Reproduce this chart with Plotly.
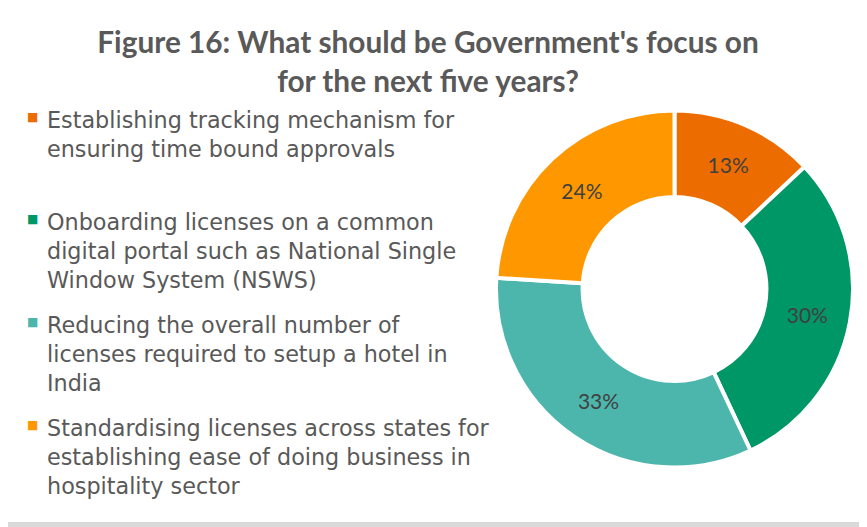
import plotly.graph_objects as go

categories = [
    "Establishing tracking mechanism for<br>ensuring time bound approvals",
    "Onboarding licenses on a common<br>digital portal such as National Single<br>Window System (NSWS)",
    "Reducing the overall number of<br>licenses required to setup a hotel in<br>India",
    "Standardising licenses across states for<br>establishing ease of doing business in<br>hospitality sector",
]
values = [13, 30, 33, 24]
colors = ["#ED6C00", "#009767", "#4DB6AC", "#FF9800"]

# The page body adds an 8px offset; figure coordinates are page coordinates minus 8.
W, H = 859, 519
cx, cy, r = 666.5, 281, 178.5

fig = go.Figure(go.Pie(
    labels=categories,
    values=values,
    sort=False,
    direction="clockwise",
    rotation=0,
    hole=0.515,
    marker=dict(colors=colors, line=dict(color="white", width=4)),
    textinfo="percent",
    texttemplate="%{percent:.0%}",
    textposition="inside",
    insidetextorientation="horizontal",
    textfont=dict(family="Lato", size=21, color="#404040"),
    domain=dict(x=[(cx - r) / W, (cx + r) / W], y=[(H - cy - r) / H, (H - cy + r) / H]),
    hoverinfo="label+percent",
    showlegend=False,
))

# legend drawn as annotations (first-line baselines in figure px)
baselines = [121, 223, 326, 429]
annotations = []
for cat, col, b in zip(categories, colors, baselines):
    annotations.append(dict(
        text=cat, xref="paper", yref="paper",
        x=37 / W, y=1 - (b - 24.5) / H, xanchor="left", yanchor="top",
        align="left", showarrow=False,
        font=dict(family="DejaVu Sans", size=22.3, color="#595959"),
    ))
    annotations.append(dict(
        text="■", xref="paper", yref="paper",
        x=24 / W, y=1 - (b - 12) / H, xanchor="center", yanchor="middle",
        showarrow=False,
        font=dict(family="DejaVu Sans", size=12, color=col),
    ))

fig.update_layout(
    width=W, height=H,
    margin=dict(l=0, r=0, t=0, b=0),
    paper_bgcolor="#D9D9D9",
    title=dict(
        text="<b>Figure 16: What should be Government's focus on<br>for the next five years?</b>",
        x=420 / W, xanchor="center", y=1 - 45 / H, yanchor="middle",
        font=dict(family="Lato", size=29.8, color="#595959"),
    ),
    annotations=annotations,
    shapes=[dict(
        type="rect", xref="paper", yref="paper",
        x0=0, x1=855 / W, y0=5 / H, y1=1,
        fillcolor="white", line=dict(width=0), layer="below",
    )],
)

fig.write_html("out.html")
